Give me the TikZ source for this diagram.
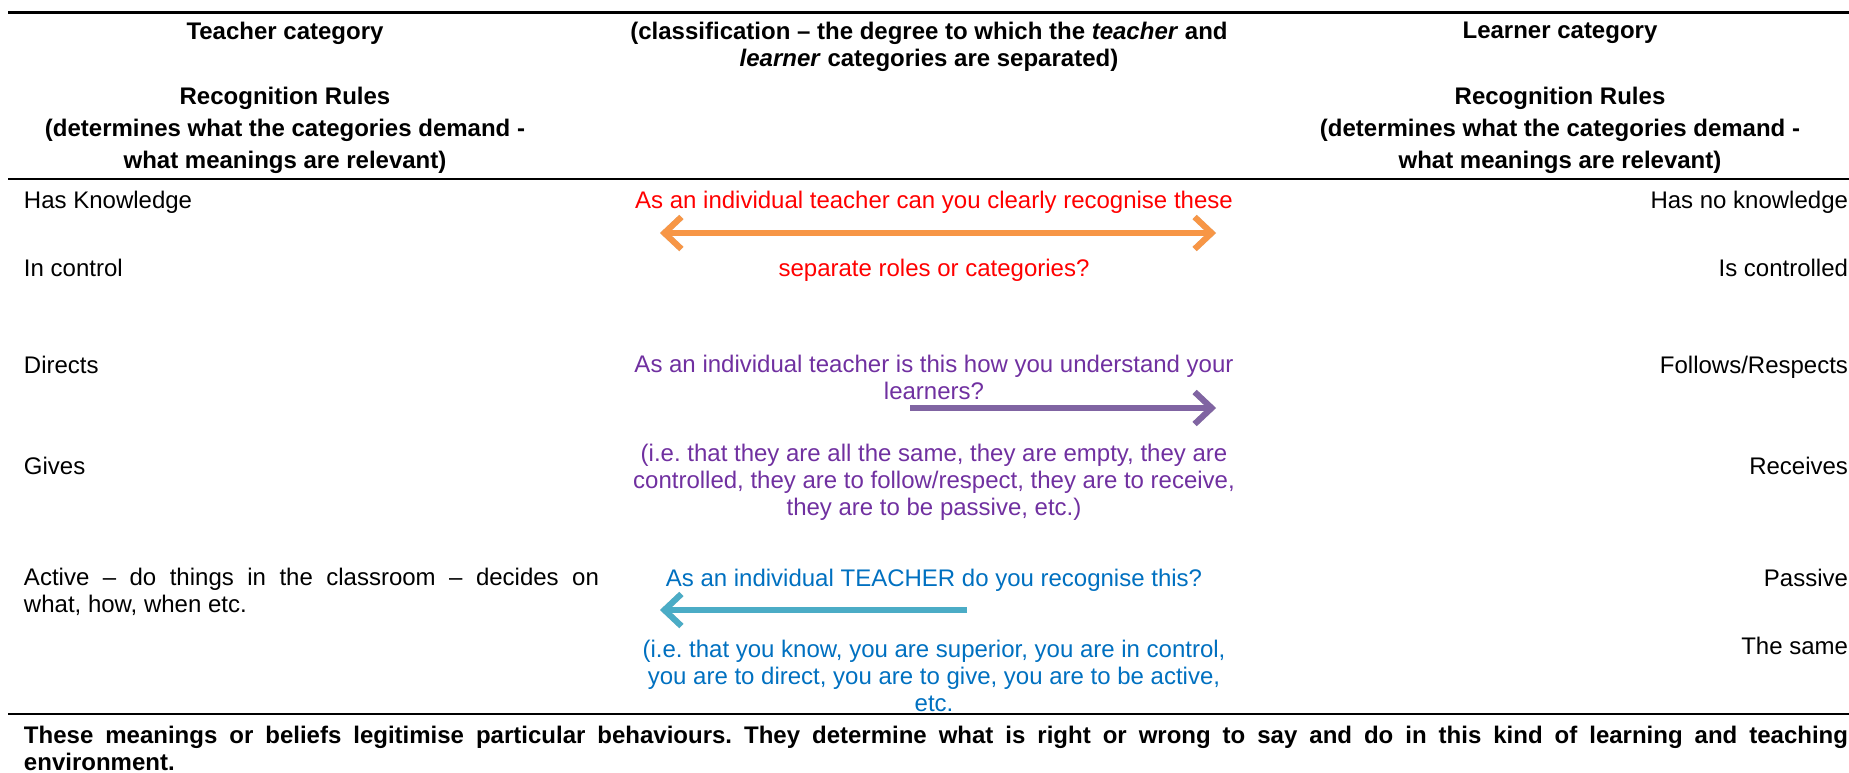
\documentclass[tikz,border=0pt]{standalone}
\usepackage{fontspec}
\setmainfont{Liberation Sans}
\usetikzlibrary{arrows.meta}
\frenchspacing
\definecolor{txtred}{HTML}{FF0000}
\definecolor{txtpurple}{HTML}{7030A0}
\definecolor{txtblue}{HTML}{0070C0}
\definecolor{arrorange}{HTML}{F79646}
\definecolor{arrpurple}{HTML}{8064A2}
\definecolor{arrblue}{HTML}{4BACC6}
\begin{document}
\begin{tikzpicture}[x=0.5pt,y=-0.5pt,
  txt/.style={inner sep=0pt,outer sep=0pt,font=\fontsize{12pt}{13.5pt}\selectfont},
  head/.style={txt,font=\fontsize{12pt}{16pt}\selectfont\bfseries,align=center},
  rule/.style={line width=1.4pt},
  bigarrow/.style={line width=3pt,-{Straight Barb[length=8.5pt,width=16pt]}},
  twoarrow/.style={line width=3pt,{Straight Barb[length=8.5pt,width=16pt]}-{Straight Barb[length=8.5pt,width=16pt]}},
  shade/.style={draw=black,opacity=0.2,yshift=-2pt}]
\useasboundingbox (0,0) rectangle (1849,772);

% horizontal rules of the table
\coordinate (topL) at (8,12);      \coordinate (topR) at (1849,12);
\coordinate (midL) at (8,179);     \coordinate (midR) at (1849,179);
\coordinate (botL) at (8,714);     \coordinate (botR) at (1849,714);
\draw[rule,line width=1.5pt] (topL) -- (topR);
\draw[rule,line width=1.2pt] (midL) -- (midR);
\draw[rule,line width=1.2pt] (botL) -- (botR);

% header row
\node[head,anchor=north] (tcat) at (285,22) {Teacher category};
\node[head,anchor=north,font=\fontsize{12pt}{13.5pt}\selectfont\bfseries] (class) at (929,22)
  {(classification – the degree to which the \textit{teacher} and\\\textit{learner} categories are separated)};
\node[head,anchor=north] (lcat) at (1560,22) {Learner category};
\node[head,anchor=north] (trules) at (285,87)
  {Recognition Rules\\(determines what the categories demand -\\what meanings are relevant)};
\node[head,anchor=north] (lrules) at (1560,87)
  {Recognition Rules\\(determines what the categories demand -\\what meanings are relevant)};

% teacher column
\node[txt,anchor=base west] (t1) at (24,208) {Has Knowledge};
\node[txt,anchor=base west] (t2) at (24,276) {In control};
\node[txt,anchor=base west] (t3) at (24,373) {Directs};
\node[txt,anchor=base west] (t4) at (24,474) {Gives};
\node[txt,anchor=north west,text width=287.5pt,align=justify] (t5) at (24,568)
  {Active – do things in the classroom – decides on\linebreak what, how, when etc.};

% learner column
\node[txt,anchor=base east] (l1) at (1848,208) {Has no knowledge};
\node[txt,anchor=base east] (l2) at (1848,276) {Is controlled};
\node[txt,anchor=base east] (l3) at (1848,373) {Follows/Respects};
\node[txt,anchor=base east] (l4) at (1848,474) {Receives};
\node[txt,anchor=base east] (l5) at (1848,586) {Passive};
\node[txt,anchor=base east] (l6) at (1848,654) {The same};

% middle column: questions
\node[txt,anchor=base,text=txtred] (q1a) at (934,208) {As an individual teacher can you clearly recognise these};
\node[txt,anchor=base,text=txtred] (q1b) at (934,276) {separate roles or categories?};

\node[txt,anchor=north,align=center,text=txtpurple] (q2) at (934,355)
  {As an individual teacher is this how you understand your\\learners?};
\node[txt,anchor=north,align=center,text=txtpurple] (q2x) at (934,444)
  {(i.e. that they are all the same, they are empty, they are\\controlled, they are to follow/respect, they are to receive,\\they are to be passive, etc.)};

\node[txt,anchor=base,text=txtblue] (q3) at (934,586) {As an individual TEACHER do you recognise this?};
\node[txt,anchor=north,align=center,text=txtblue] (q3x) at (934,640)
  {(i.e. that you know, you are superior, you are in control,\\you are to direct, you are to give, you are to be active,\\etc.};

% arrows with a soft drop shadow
\coordinate (oL) at (660,233); \coordinate (oR) at (1216,233);
\coordinate (pL) at (910,408); \coordinate (pR) at (1216,408);
\coordinate (bR) at (967,610); \coordinate (bL) at (660,610);
\draw[twoarrow,shade] (oL) -- (oR);
\draw[twoarrow,arrorange] (oL) -- (oR);
\draw[bigarrow,shade] (pL) -- (pR);
\draw[bigarrow,arrpurple] (pL) -- (pR);
\draw[bigarrow,shade] (bR) -- (bL);
\draw[bigarrow,arrblue] (bR) -- (bL);

% closing remark
\node[txt,anchor=north west,text width=912pt,align=justify,font=\fontsize{12pt}{13.5pt}\selectfont\bfseries] (note) at (24,726)
  {These meanings or beliefs legitimise particular behaviours. They determine what is right or wrong to say and do in this kind of learning and teaching\linebreak environment.};
\end{tikzpicture}
\end{document}
